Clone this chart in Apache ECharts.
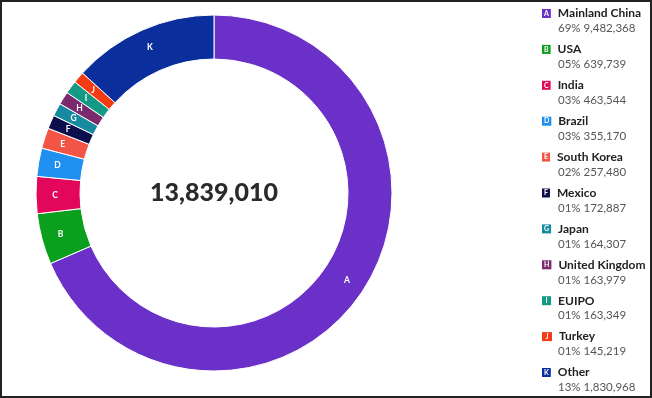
<!DOCTYPE html>
<html><head><meta charset="utf-8">
<script src="https://cdn.jsdelivr.net/npm/echarts@6/dist/echarts.min.js"></script>
<style>html,body{margin:0;padding:0;background:#fff}#c{width:652px;height:398px}</style>
</head><body><div id="c"></div>
<script>
const categories = ['Mainland China','USA','India','Brazil','South Korea','Mexico','Japan','United Kingdom','EUIPO','Turkey','Other'];
const letters = ['A','B','C','D','E','F','G','H','I','J','K'];
const values = [9482368,639739,463544,355170,257480,172887,164307,163979,163349,145219,1830968];
const percentLabels = ['69%','05%','03%','03%','02%','01%','01%','01%','01%','01%','13%'];
const totalLabel = '13,839,010';
const colors = ['#6a30c8','#0aa01e','#e3075c','#1f8ff0','#f25546','#0c0f4d','#168a9e','#7b2a6e','#149a84','#f53a14','#0a2f9c'];

const fmt = n => n.toLocaleString('en-US');
const rich = {
  nm:{fontFamily:'Lato',fontSize:12,fontWeight:'bold',color:'#222',lineHeight:15,padding:[0,0,0,7]},
  sp:{width:16,lineHeight:15},
  sub:{fontFamily:'Lato',fontSize:11.5,color:'#555',lineHeight:15}
};
letters.forEach((l,i)=>{
  const narrow = l==='I' || l==='J';
  rich['b'+l]={backgroundColor:colors[i],color:'#fff',fontFamily:'Lato',fontSize:7,fontWeight:'bold',padding:narrow?[1,3.5,1,3.5]:[1,2,1,2],lineHeight:8};
});

const chart = echarts.init(document.getElementById('c'));
chart.setOption({
  animation:false,
  color:colors,
  graphic:[
    {type:'rect',shape:{x:1,y:1,width:650,height:396},style:{fill:null,stroke:'#222',lineWidth:2},silent:true},
    {type:'text',x:214,y:193,style:{text:totalLabel,fontFamily:'Lato',fontSize:25,fontWeight:900,fill:'#2a2a2a',align:'center',verticalAlign:'middle'}}
  ],
  legend:{
    type:'plain',orient:'vertical',left:536,top:6,height:396,itemWidth:0,itemHeight:0,itemGap:5.9,icon:'rect',
    align:'left',padding:0,
    selectedMode:false,
    data:categories,
    formatter:function(name){
      const i=categories.indexOf(name);
      return '{b'+letters[i]+'|'+letters[i]+'}{nm|'+name+'}\n{sp|}{sub|'+percentLabels[i]+' '+fmt(values[i])+'}';
    },
    textStyle:{rich:rich,lineHeight:15,align:'left'}
  },
  series:[{
    type:'pie',
    center:[214,193],
    radius:[134,178],
    startAngle:90,
    clockwise:true,
    avoidLabelOverlap:false,
    itemStyle:{borderColor:'#fff',borderWidth:1},
    label:{show:true,position:'inside',formatter:p=>letters[p.dataIndex],color:'#fff',fontFamily:'Lato',fontSize:8.5,fontWeight:'bold',textBorderWidth:0},
    labelLine:{show:false},
    emphasis:{disabled:true},
    data:categories.map((c,i)=>({name:c,value:values[i]}))
  }]
});
</script></body></html>
